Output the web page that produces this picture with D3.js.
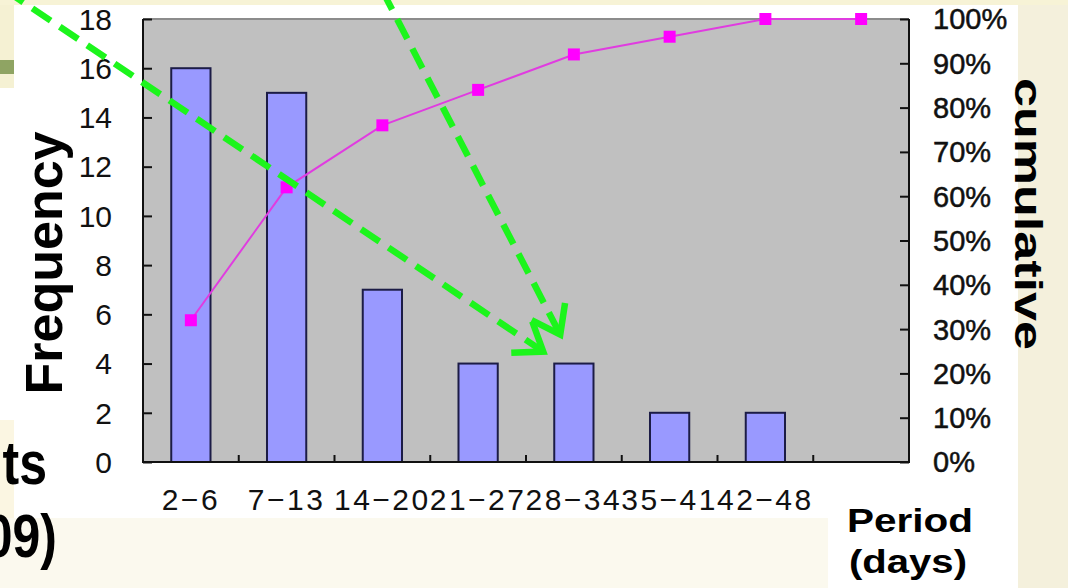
<!DOCTYPE html>
<html>
<head>
<meta charset="utf-8">
<script src="https://cdn.jsdelivr.net/npm/d3@7/dist/d3.min.js"></script>
<style>
  html, body { margin: 0; padding: 0; background: #fbf9ef; }
  svg { display: block; }
</style>
</head>
<body>
<svg id="chart" width="1068" height="588"></svg>
<script>
// Period bins (days) and how many cases fell in each
const categories = ["2−6", "7−13", "14−20", "21−27", "28−34", "35−41", "42−48", ""];
const frequency  = [16, 15, 7, 4, 4, 2, 2, 0];
// Cumulative share per bin
const cumulative = [0.32, 0.62, 0.76, 0.84, 0.92, 0.96, 1.00, 1.00];
// Axis tick values
const freqTicks = [0, 2, 4, 6, 8, 10, 12, 14, 16, 18];
const pctTicks  = [0, 0.1, 0.2, 0.3, 0.4, 0.5, 0.6, 0.7, 0.8, 0.9, 1.0];

const svg = d3.select("#chart");
const W = 1068, H = 588;
const plot = { left: 143, right: 909, top: 19, bottom: 462 };

// ---- slide background and white chart panel ----
svg.append("rect").attr("width", W).attr("height", H).attr("fill", "#fbf9ee");
svg.append("rect").attr("x", 1018).attr("y", 0).attr("width", W - 1018).attr("height", H).attr("fill", "#f4f0dc");
svg.append("rect").attr("x", 0).attr("y", 0).attr("width", W).attr("height", 5).attr("fill", "#f7f3d6");
svg.append("rect").attr("x", 0).attr("y", 5).attr("width", 1018).attr("height", 513).attr("fill", "#ffffff");
svg.append("rect").attr("x", 828).attr("y", 518).attr("width", 190).attr("height", H - 518).attr("fill", "#ffffff");
svg.append("rect").attr("x", 0).attr("y", 5).attr("width", 14).attr("height", 83).attr("fill", "#f5f1d3");
svg.append("rect").attr("x", 0).attr("y", 60).attr("width", 14).attr("height", 14).attr("fill", "#8fa463");
svg.append("rect").attr("x", 0).attr("y", 420).attr("width", 14).attr("height", 98).attr("fill", "#fbf6e2");

// ---- scales ----
const x = d3.scaleBand()
  .domain(categories.map((c, i) => i))
  .range([plot.left, plot.right])
  .paddingInner(0.59)
  .paddingOuter(0.295);
const step = x.step();
const yL = d3.scaleLinear().domain([0, 18]).range([plot.bottom, plot.top]);
const yR = d3.scaleLinear().domain([0, 1]).range([plot.bottom, plot.top]);

// ---- plot area ----
svg.append("rect")
  .attr("x", plot.left).attr("y", plot.top)
  .attr("width", plot.right - plot.left).attr("height", plot.bottom - plot.top)
  .attr("fill", "#c0c0c0");
svg.append("line")
  .attr("x1", plot.left).attr("x2", plot.right)
  .attr("y1", plot.top).attr("y2", plot.top)
  .attr("stroke", "#8c8c8c").attr("stroke-width", 2);

// ---- frequency bars ----
svg.append("g").selectAll("rect")
  .data(frequency.map((v, i) => ({ v, i })).filter(d => d.v > 0))
  .join("rect")
  .attr("x", d => x(d.i))
  .attr("y", d => yL(d.v))
  .attr("width", x.bandwidth())
  .attr("height", d => yL(0) - yL(d.v))
  .attr("fill", "#9999ff")
  .attr("stroke", "#1c1c46")
  .attr("stroke-width", 2);

// ---- axes ----
const fontTick = "'Liberation Sans', Arial, sans-serif";

// left frequency axis
const left = svg.append("g").attr("transform", `translate(${plot.left},0)`)
  .call(d3.axisRight(yL).tickValues(freqTicks).tickSize(9).tickFormat(""));
left.select(".domain").remove();
left.selectAll(".tick line").attr("stroke", "#111").attr("stroke-width", 2);
svg.append("g").selectAll("text")
  .data(freqTicks).join("text")
  .attr("x", 112).attr("y", d => yL(d))
  .attr("dy", "0.36em")
  .attr("text-anchor", "end")
  .attr("font-family", fontTick).attr("font-size", 30).attr("fill", "#111")
  .text(d => d);

// right cumulative axis
const right = svg.append("g").attr("transform", `translate(${plot.right},0)`)
  .call(d3.axisLeft(yR).tickValues(pctTicks).tickSize(9).tickFormat(""));
right.select(".domain").remove();
right.selectAll(".tick line").attr("stroke", "#111").attr("stroke-width", 2);
svg.append("g").selectAll("text")
  .data(pctTicks).join("text")
  .attr("x", 933).attr("y", d => yR(d))
  .attr("dy", "0.36em")
  .attr("text-anchor", "start")
  .attr("font-family", fontTick).attr("font-size", 29).attr("fill", "#111")
  .attr("stroke", "#111").attr("stroke-width", 0.5)
  .text(d => d3.format(".0%")(d));

// category axis: ticks sit on the bin boundaries
const boundaries = d3.range(1, categories.length).map(i => plot.left + i * step);
svg.append("g").selectAll("line")
  .data(boundaries).join("line")
  .attr("x1", d => d).attr("x2", d => d)
  .attr("y1", plot.bottom).attr("y2", plot.bottom - 7)
  .attr("stroke", "#111").attr("stroke-width", 2);
svg.append("g").selectAll("text")
  .data(categories).join("text")
  .attr("x", (d, i) => x(i) + x.bandwidth() / 2)
  .attr("y", 510)
  .attr("text-anchor", "middle")
  .attr("font-family", fontTick).attr("font-size", 30)
  .attr("letter-spacing", "2.5px").attr("fill", "#111")
  .text(d => d);

// axis frame lines
svg.append("line").attr("x1", plot.left).attr("x2", plot.left)
  .attr("y1", plot.top).attr("y2", plot.bottom + 1).attr("stroke", "#111").attr("stroke-width", 2);
svg.append("line").attr("x1", plot.right).attr("x2", plot.right)
  .attr("y1", plot.top).attr("y2", plot.bottom + 1).attr("stroke", "#111").attr("stroke-width", 2);
svg.append("line").attr("x1", plot.left - 1).attr("x2", plot.right + 1)
  .attr("y1", plot.bottom).attr("y2", plot.bottom).attr("stroke", "#111").attr("stroke-width", 2);

// ---- cumulative line with square markers ----
const cx = i => x(i) + x.bandwidth() / 2;
svg.append("path")
  .datum(cumulative)
  .attr("d", d3.line().x((d, i) => cx(i)).y(d => yR(d)))
  .attr("fill", "none")
  .attr("stroke", "#e03ce0")
  .attr("stroke-width", 2);
const mk = 12;
svg.append("g").selectAll("rect")
  .data(cumulative).join("rect")
  .attr("x", (d, i) => cx(i) - mk / 2)
  .attr("y", d => yR(d) - mk / 2)
  .attr("width", mk).attr("height", mk)
  .attr("fill", "#ff00ff");

// ---- axis titles ----
const fontTitle = "'Liberation Sans', Arial, sans-serif";
svg.append("text")
  .attr("transform", "translate(62,263) rotate(-90)")
  .attr("text-anchor", "middle")
  .attr("font-family", fontTitle).attr("font-weight", "bold").attr("font-size", 52)
  .attr("fill", "#000")
  .text("Frequency");
svg.append("text")
  .attr("transform", "translate(1015,214) rotate(90)")
  .attr("text-anchor", "middle")
  .attr("font-family", fontTitle).attr("font-weight", "bold").attr("font-size", 39)
  .attr("textLength", 272).attr("lengthAdjust", "spacingAndGlyphs")
  .attr("fill", "#000")
  .text("cumulative");
svg.append("text")
  .attr("x", 910).attr("y", 532)
  .attr("text-anchor", "middle")
  .attr("font-family", fontTitle).attr("font-weight", "bold").attr("font-size", 33)
  .attr("textLength", 126).attr("lengthAdjust", "spacingAndGlyphs")
  .attr("fill", "#000")
  .text("Period");
svg.append("text")
  .attr("x", 908).attr("y", 573)
  .attr("text-anchor", "middle")
  .attr("font-family", fontTitle).attr("font-weight", "bold").attr("font-size", 33)
  .attr("textLength", 118).attr("lengthAdjust", "spacingAndGlyphs")
  .attr("fill", "#000")
  .text("(days)");

// slide body text running under the chart panel
svg.append("text")
  .attr("transform", "translate(47,484) scale(1,1.22)")
  .attr("text-anchor", "end")
  .attr("font-family", fontTitle).attr("font-weight", "bold").attr("font-size", 50)
  .attr("fill", "#000")
  .text("ts");
svg.append("text")
  .attr("transform", "translate(57,557) scale(1,1.22)")
  .attr("text-anchor", "end")
  .attr("font-family", fontTitle).attr("font-weight", "bold").attr("font-size", 50)
  .attr("fill", "#000")
  .text("09)");

// ---- green dashed callout arrows pointing at the 28−34 bin ----
const target = 4;
const arrowTips = [
  [x(target) - 11, yL(frequency[target]) - 12],
  [x(target) + 6,  yL(frequency[target]) - 29]
];
const arrowStarts = [[5, -10], [382, -10]];
const green = "#1cf51c";
const headLen = 32, headAngle = Math.PI * 0.2;
arrowTips.forEach((tip, k) => {
  const s = arrowStarts[k];
  const ang = Math.atan2(tip[1] - s[1], tip[0] - s[0]);
  svg.append("line")
    .attr("x1", s[0]).attr("y1", s[1])
    .attr("x2", tip[0] - 4 * Math.cos(ang)).attr("y2", tip[1] - 4 * Math.sin(ang))
    .attr("stroke", green).attr("stroke-width", 6.5)
    .attr("stroke-dasharray", "22 11");
  const back = ang + Math.PI;
  const w1 = [tip[0] + headLen * Math.cos(back - headAngle), tip[1] + headLen * Math.sin(back - headAngle)];
  const w2 = [tip[0] + headLen * Math.cos(back + headAngle), tip[1] + headLen * Math.sin(back + headAngle)];
  svg.append("path")
    .attr("d", d3.line()([w1, tip, w2]))
    .attr("fill", "none")
    .attr("stroke", green).attr("stroke-width", 6.5)
    .attr("stroke-linejoin", "miter");
});
</script>
</body>
</html>
